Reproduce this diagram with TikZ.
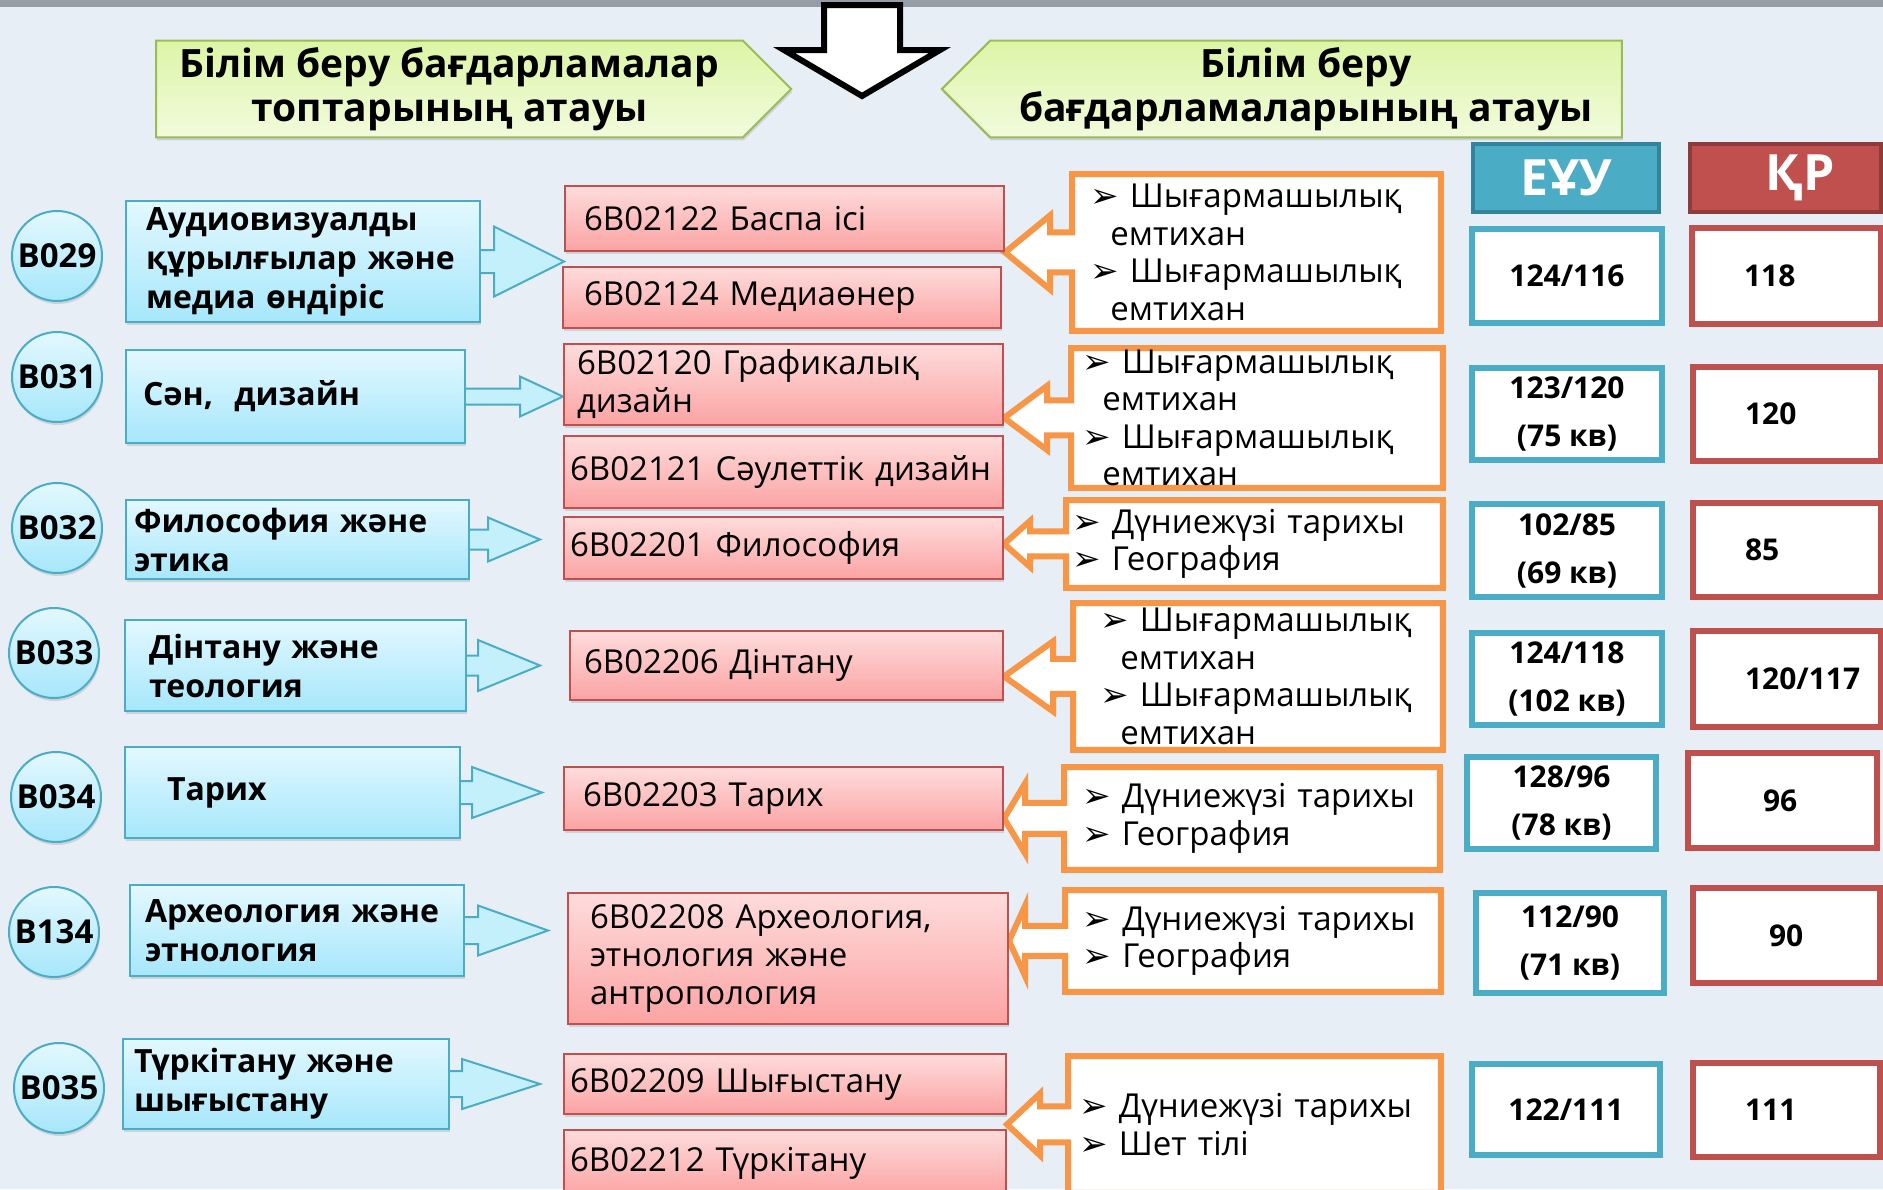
\documentclass[tikz,border=0pt]{standalone}
\usepackage{fontspec}
\setmainfont{Open Sans}
\newfontfamily\dejavu{DejaVu Sans}
\usetikzlibrary{calc,shadows,shapes.symbols}

\definecolor{bgcol}{HTML}{E8EEF6}
\definecolor{barcol}{HTML}{959DA6}
\definecolor{bluebd}{HTML}{4BACC6}
\definecolor{bluetop}{HTML}{E3F8FE}
\definecolor{bluebot}{HTML}{A6E7FB}
\definecolor{bluemid}{HTML}{C4F0FC}
\definecolor{redbd}{HTML}{C0504D}
\definecolor{redtop}{HTML}{FEDCDC}
\definecolor{redbot}{HTML}{FBA3A3}
\definecolor{orng}{HTML}{F79646}
\definecolor{grnbd}{HTML}{9BBB59}
\definecolor{grntop}{HTML}{DCF5A6}
\definecolor{grnbot}{HTML}{F2FBDD}
\definecolor{tealdk}{HTML}{31849B}
\definecolor{reddk}{HTML}{8E3B39}

\pgfdeclarelayer{under}
\pgfsetlayers{under,main}

\newcommand{\bul}{{\dejavu\fontsize{17}{17}\selectfont ➢}\ }

% block arrow: source, target, gap, head, shaft, wing
\newcommand{\barrow}[6]{%
    \begin{pgfonlayer}{under}
    \path[garrow] let \p1=(#1.east), \p2=(#2.west) in
        (\x1,\y1+#5) -- (\x2-#3-#4,\y1+#5) -- (\x2-#3-#4,\y1+#6) -- (\x2-#3,\y1)
        -- (\x2-#3-#4,\y1-#6) -- (\x2-#3-#4,\y1-#5) -- (\x1,\y1-#5);
    \end{pgfonlayer}
}
% orange box with arrow: box, target, shaft, wing, head
\newcommand{\ocall}[5]{%
    \begin{pgfonlayer}{under}
    \path[ocallout] let \p1=(#1.north west), \p2=(#1.south east), \p3=(#1.west), \p4=(#2.east) in
        (\x1,\y1) -- (\x2,\y1) -- (\x2,\y2) -- (\x1,\y2) -- (\x1,\y3-#3)
        -- (\x4+#5,\y3-#3) -- (\x4+#5,\y3-#4) -- (\x4,\y3) -- (\x4+#5,\y3+#4)
        -- (\x4+#5,\y3+#3) -- (\x1,\y3+#3) -- cycle;
    \end{pgfonlayer}
}

\tikzset{
    shdw/.style={drop shadow={opacity=.25, shadow xshift=.5pt, shadow yshift=-1.5pt}},
    title/.style={signal, signal from=nowhere, draw=grnbd, line width=1pt, top color=grntop,
        bottom color=grnbot, align=center, font=\fontsize{19.5}{22}\selectfont\bfseries, shdw},
    hdr/.style={anchor=north west, line width=2pt, text=white, inner sep=0pt,
        font=\fontsize{25}{25}\selectfont\bfseries},
    code/.style={circle, draw=bluebd, line width=1pt, top color=bluetop, bottom color=bluebot,
        minimum size=45pt, inner sep=0pt, font=\fontsize{16.5}{16.5}\selectfont\bfseries, shdw},
    gbox/.style={anchor=north west, draw=bluebd, line width=1pt, top color=bluetop,
        bottom color=bluebot, align=left, inner ysep=0pt,
        font=\fontsize{16}{19.5}\selectfont\bfseries, shdw},
    pbox/.style={anchor=north west, draw=redbd, line width=1pt, top color=redtop,
        bottom color=redbot, align=left, inner ysep=0pt, font=\fontsize{16.5}{19}\selectfont, shdw},
    obox/.style={anchor=north west, align=left, inner ysep=0pt, font=\fontsize{16.5}{18.8}\selectfont},
    ocallout/.style={draw=orng, fill=white, line width=3pt, line join=miter},
    garrow/.style={draw=bluebd, fill=bluemid, line width=1pt, line join=miter},
    ebox/.style={anchor=north west, draw=bluebd, fill=white, line width=3pt, inner sep=0pt,
        align=center, font=\fontsize{15}{24}\selectfont\bfseries},
    kbox/.style={anchor=north west, draw=redbd, fill=white, line width=3pt, inner ysep=0pt,
        inner xsep=26pt, text width=42pt, align=left, font=\fontsize{15}{24}\selectfont\bfseries}
}

\begin{document}
\begin{tikzpicture}[x=0.5pt, y=-0.5pt]
    \useasboundingbox (0,0) rectangle (1883,1189);
    \begin{pgfonlayer}{under}
        \fill[bgcol] (0,0) rectangle (1883,1189);
    \end{pgfonlayer}
    \fill[barcol] (0,0) rectangle (1883,7);
    \draw[line width=3pt, fill=white, line join=miter] (824,5) -- (900,5) -- (900,50) -- (940,50)
        -- (862,96) -- (784,50) -- (824,50) -- cycle;

    \node[title, signal to=east, minimum width=317.5pt, minimum height=45pt] (tl) at (449.5,89)
        {Білім беру бағдарламалар\\топтарының атауы};
    \node[title, signal to=west, minimum width=340pt, minimum height=45pt] (tr) at (1306,89)
        {Білім беру\\бағдарламаларының атауы};

    \node[hdr, draw=tealdk, fill=bluebd, minimum width=93pt, minimum height=34pt] (heu) at (1471,142) {ЕҰУ};
    \node[hdr, draw=reddk, fill=redbd, minimum width=95.5pt, minimum height=34pt] (hkr) at (1688,142) {\hspace*{15pt}ҚР};

    % codes
    \node[code] (c1) at (57,256) {B029};
    \node[code] (c2) at (57,377) {B031};
    \node[code] (c3) at (57,528) {B032};
    \node[code] (c4) at (54,653) {B033};
    \node[code] (c5) at (56,797) {B034};
    \node[code] (c6) at (54,932) {B134};
    \node[code] (c7) at (59,1088) {B035};

    % groups
    \node[gbox, inner xsep=10pt, text width=157pt, minimum height=60.5pt] (g1) at (125,200)
        {Аудиовизуалды\\құрылғылар және\\медиа өндіріс};
    \node[gbox, inner xsep=8.5pt, text width=152.5pt, minimum height=46.5pt] (g2) at (125,349)
        {Сән,\ \ дизайн};
    \node[gbox, inner xsep=4pt, text width=163.5pt, minimum height=39.5pt] (g3) at (125,499)
        {Философия және\\этика};
    \node[gbox, inner xsep=12pt, text width=146.5pt, minimum height=45.5pt] (g4) at (124,619)
        {Дінтану және\\теология};
    \node[gbox, inner xsep=21pt, text width=125.5pt, minimum height=45.5pt] (g5) at (124,746)
        {Тарих};
    \node[gbox, inner xsep=7.5pt, text width=152pt, minimum height=45.5pt] (g6) at (129,884)
        {Археология және\\этнология};
    \node[gbox, inner xsep=5.5pt, text width=152pt, minimum height=45pt] (g7) at (122,1038)
        {Түркітану және\\шығыстану};

    % programmes
    \node[pbox, inner xsep=9.5pt, text width=200.5pt, minimum height=32.5pt] (p1) at (564,185) {6B02122 Баспа ісі};
    \node[pbox, inner xsep=10.5pt, text width=198pt, minimum height=30.5pt] (p2) at (562,266) {6B02124 Медиаөнер};
    \node[pbox, inner xsep=6.5pt, text width=206.5pt, minimum height=40.5pt] (p3) at (563,343) {6B02120 Графикалық\\дизайн};
    \node[pbox, inner xsep=3pt, text width=213.5pt, minimum height=36pt] (p4) at (563,435) {6B02121 Сәулеттік дизайн};
    \node[pbox, inner xsep=3pt, text width=213.5pt, minimum height=31pt] (p5) at (563,516) {6B02201 Философия};
    \node[pbox, inner xsep=7pt, text width=202.5pt, minimum height=34.5pt] (p6) at (569,630) {6B02206 Дінтану};
    \node[pbox, inner xsep=9.5pt, text width=200.5pt, minimum height=31.5pt] (p7) at (563,766) {6B02203 Тарих};
    \node[pbox, inner xsep=11pt, text width=198pt, minimum height=65.5pt] (p8) at (567,892)
        {6B02208 Археология,\\этнология және\\антропология};
    \node[pbox, inner xsep=3pt, text width=215pt, minimum height=30pt] (p9) at (563,1053) {6B02209 Шығыстану};
    \node[pbox, inner xsep=3pt, text width=215pt, minimum height=33pt] (p10) at (563,1129) {6B02212 Түркітану};

    \barrow{g1}{p1}{0pt}{35pt}{5.75pt}{17.5pt}
    \barrow{g2}{p3}{0pt}{21.5pt}{4pt}{10pt}
    \barrow{g3}{p5}{11.5pt}{26pt}{5pt}{11pt}
    \barrow{g4}{p6}{14.5pt}{31pt}{5pt}{12.75pt}
    \barrow{g5}{p7}{10.5pt}{35pt}{5.75pt}{12.75pt}
    \barrow{g6}{p8}{9.5pt}{35pt}{6.75pt}{12.5pt}
    \barrow{g7}{p9}{11.5pt}{39pt}{6.5pt}{12.5pt}

    % exams
    \node[obox, inner xsep=9pt, text width=166pt, minimum height=78pt] (o1) at (1072,174)
        {\bul Шығармашылық\\\hspace*{10pt}емтихан\\\bul Шығармашылық\\\hspace*{10pt}емтихан};
    \node[obox, inner xsep=5.5pt, text width=174.5pt, minimum height=69.5pt] (o2) at (1071,348)
        {\bul Шығармашылық\\\hspace*{10pt}емтихан\\\bul Шығармашылық\\\hspace*{10pt}емтихан};
    \node[obox, inner xsep=3pt, text width=182pt, minimum height=43.5pt] (o3) at (1066,500)
        {\bul Дүниежүзі тарихы\\\bul География};
    \node[obox, inner xsep=13.5pt, text width=157.5pt, minimum height=73pt] (o4) at (1073,603)
        {\bul Шығармашылық\\\hspace*{10pt}емтихан\\\bul Шығармашылық\\\hspace*{10pt}емтихан};
    \node[obox, inner xsep=9pt, text width=169.5pt, minimum height=51pt] (o5) at (1064,767)
        {\bul Дүниежүзі тарихы\\\bul География};
    \node[obox, inner xsep=8.75pt, text width=170pt, minimum height=50.5pt] (o6) at (1065,890)
        {\bul Дүниежүзі тарихы\\\bul География};
    \node[obox, inner xsep=5.5pt, text width=175pt, minimum height=68pt] (o7) at (1068,1056)
        {\bul Дүниежүзі тарихы\\\bul Шет тілі};

    \ocall{o1}{p1}{10pt}{18.5pt}{22.5pt}
    \ocall{o2}{p3}{8.75pt}{16pt}{21.5pt}
    \ocall{o3}{p5}{6.25pt}{11.5pt}{13pt}
    \ocall{o4}{p6}{8.75pt}{17.5pt}{24.5pt}
    \ocall{o5}{p7}{7.75pt}{17.5pt}{10.5pt}
    \ocall{o6}{p8}{7.5pt}{17.5pt}{8pt}
    \ocall{o7}{p9}{9pt}{15.5pt}{16.5pt}

    % scores
    \node[ebox, minimum width=95pt, minimum height=47pt] (e1) at (1469,226) {124/116};
    \node[ebox, minimum width=95pt, minimum height=46pt] (e2) at (1469,365) {123/120\\(75 кв)};
    \node[ebox, minimum width=95pt, minimum height=46.5pt] (e3) at (1469,501) {102/85\\(69 кв)};
    \node[ebox, minimum width=95pt, minimum height=46pt] (e4) at (1469,630) {124/118\\(102 кв)};
    \node[ebox, minimum width=94.5pt, minimum height=46pt] (e5) at (1464,754) {128/96\\(78 кв)};
    \node[ebox, minimum width=94pt, minimum height=50pt] (e6) at (1473,890) {112/90\\(71 кв)};
    \node[ebox, minimum width=94pt, minimum height=45.5pt] (e7) at (1469,1061) {122/111};

    \node[kbox, text width=42.5pt, minimum height=48pt] (k1) at (1689,225) {118};
    \node[kbox, minimum height=47pt] (k2) at (1690,364) {120};
    \node[kbox, minimum height=47pt] (k3) at (1690,500) {85};
    \node[kbox, minimum height=48pt] (k4) at (1690,628) {120/117};
    \node[kbox, inner xsep=37.5pt, text width=19.5pt, minimum height=47.5pt] (k5) at (1685,750) {96};
    \node[kbox, inner xsep=38pt, text width=17.5pt, minimum height=47.5pt] (k6) at (1690,885) {90};
    \node[kbox, text width=41.5pt, minimum height=47pt] (k7) at (1690,1060) {111};
\end{tikzpicture}
\end{document}
